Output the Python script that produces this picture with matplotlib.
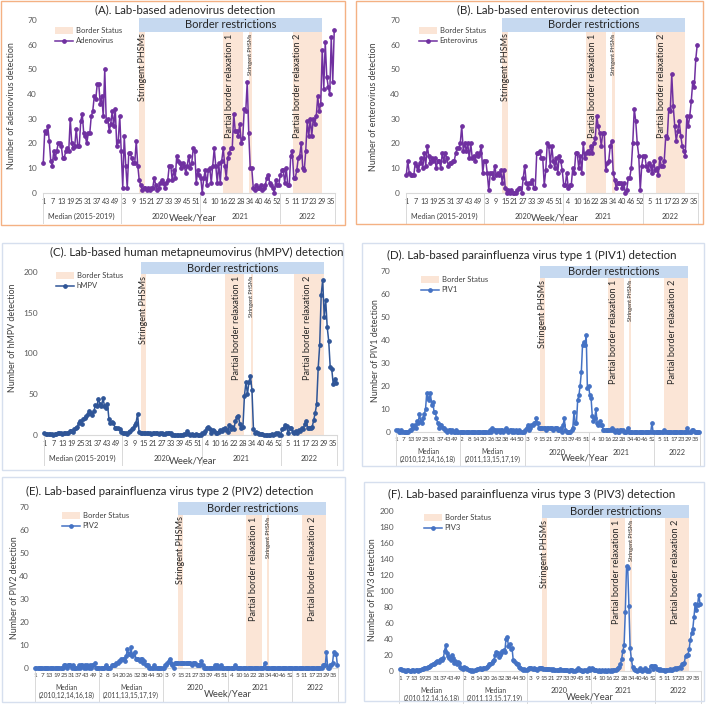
import matplotlib
matplotlib.use("Agg")
import matplotlib.pyplot as plt
import matplotlib.transforms as mtransforms
from matplotlib.patches import Rectangle, Patch
from matplotlib.lines import Line2D

plt.rcParams['font.family'] = ['Lato', 'DejaVu Sans']

W, H = 709, 704
PEACH = "#FBE5D6"
BAR_BLUE = "#C6D9F0"
TXT = "#404040"
GRID = "#D9D9D9"

# ---------------- data ----------------
# panels A-C: median year + 2020, 2021, 2022 (weeks per group)
weeks_abc = [52, 53, 53, 37]
keys_abc = ["median", "2020", "2021", "2022"]
groups_abc = [["Median (2015-2019)"], ["2020"], ["2021"], ["2022"]]
# panels D-F: two median years + 2020, 2021, 2022
weeks_def = [53, 53, 53, 53, 38]
keys_def = ["median1", "median2", "2020", "2021", "2022"]
groups_def = [["Median", "(2010,12,14,16,18)"], ["Median", "(2011,13,15,17,19)"],
              ["2020"], ["2021"], ["2022"]]

# policy periods (year, first week, last week)
periods = [("2020", 13.0, 16.8), ("2021", 16.0, 29.0), ("2021", 33.1, 34.9), ("2022", 9.2, 29.0)]
period_labels = ["Stringent PHSMs", "Partial border relaxation 1", "Stringent PHSMs",
                 "Partial border relaxation 2"]

adeno_median = [12, 25, 24, 27, 21, 13, 11, 17, 14, 17, 20, 20, 19, 14, 14, 17, 18, 17, 30, 20, 18, 19, 26, 19, 19, 29,
                32, 24, 23, 20, 24, 24, 31, 33, 39, 38, 44, 44, 36, 39, 31, 50, 29, 30, 25, 28, 33, 27, 34, 19, 21, 31]
adeno_2020 = [17, 2, 23, 11, 2, 16, 16, 14, 12, 12, 21, 11, 5, 3, 1, 2, 2, 1, 2, 1, 2, 2, 6, 3, 1, 2, 4, 5, 4, 2, 4, 5,
              11, 11, 5, 9, 6, 15, 13, 12, 10, 12, 11, 8, 11, 15, 10, 12, 18, 17, 4, 9, 7]
adeno_2021 = [6, 0, 6, 9, 3, 9, 10, 4, 11, 18, 11, 4, 12, 4, 13, 18, 11, 6, 14, 16, 18, 18, 32, 25, 25, 23, 28, 20, 22,
              34, 33, 45, 24, 10, 10, 2, 1, 3, 2, 2, 3, 1, 2, 3, 6, 7, 4, 3, 2, 0, 5, 3, 3]
adeno_2022 = [7, 9, 9, 4, 10, 3, 3, 15, 17, 6, 6, 9, 14, 15, 20, 10, 9, 17, 29, 23, 30, 23, 30, 28, 31, 39, 33, 36, 58,
              42, 61, 47, 43, 40, 63, 45, 66]

entero_median = [7, 13, 8, 7, 7, 7, 12, 11, 9, 12, 14, 10, 16, 11, 19, 15, 12, 14, 13, 14, 10, 13, 13, 10, 16, 13, 16,
                 14, 11, 12, 12, 13, 13, 16, 18, 18, 20, 27, 17, 20, 17, 20, 14, 20, 14, 15, 13, 16, 15, 16, 19, 8]
entero_2020 = [13, 13, 8, 1, 8, 8, 6, 11, 7, 8, 7, 9, 4, 9, 2, 0, 1, 0, 1, 0, 0, 0, 1, 2, 2, 0, 6, 11, 4, 2, 4, 4, 5, 2,
               2, 16, 16, 17, 14, 14, 3, 9, 20, 19, 11, 19, 13, 10, 14, 8, 15, 13, 9]
entero_2021 = [3, 3, 8, 2, 3, 3, 10, 8, 16, 16, 10, 15, 8, 20, 14, 16, 17, 16, 19, 16, 20, 22, 31, 27, 24, 19, 24, 24,
               9, 12, 13, 19, 21, 8, 5, 2, 4, 4, 4, 2, 4, 0, 1, 6, 6, 10, 20, 34, 29, 20, 15, 1, 11]
entero_2022 = [15, 15, 11, 9, 12, 11, 8, 13, 9, 10, 7, 14, 11, 11, 13, 23, 22, 34, 33, 48, 35, 27, 21, 25, 29, 23, 19,
               17, 15, 31, 27, 31, 37, 45, 43, 54, 60]

hmpv_median = [2, 1, 1, 1, 1, 1, 0, 1, 1, 2, 3, 3, 1, 2, 2, 3, 3, 5, 5, 4, 7, 8, 10, 15, 17, 14, 19, 21, 23, 26, 30, 27,
               25, 29, 37, 36, 44, 38, 35, 45, 36, 33, 38, 19, 15, 16, 15, 9, 9, 8, 7, 4]
hmpv_2020 = [2, 2, 2, 1, 4, 5, 7, 8, 12, 15, 26, 4, 3, 3, 3, 2, 2, 2, 2, 1, 2, 2, 3, 2, 1, 2, 2, 1, 1, 2, 2, 2, 2, 0, 0,
             0, 0, 0, 0, 0, 0, 1, 1, 5, 1, 0, 1, 0, 0, 1, 0, 0, 0]
hmpv_2021 = [2, 3, 5, 8, 10, 7, 3, 6, 5, 3, 3, 4, 6, 5, 7, 8, 6, 4, 12, 7, 10, 7, 17, 22, 23, 13, 8, 10, 48, 65, 50, 65,
             72, 55, 7, 3, 4, 2, 1, 1, 1, 0, 0, 0, 0, 0, 1, 0, 1, 3, 2, 0, 0]
hmpv_2022 = [7, 8, 12, 11, 2, 8, 9, 4, 3, 5, 3, 6, 5, 9, 7, 13, 17, 9, 8, 8, 10, 18, 27, 38, 82, 110, 172, 190, 145,
             165, 132, 115, 83, 81, 62, 68, 64]

piv1_median1 = [1, 1, 0, 0, 1, 0, 0, 0, 0, 0, 0, 1, 1, 3, 2, 3, 2, 5, 4, 8, 5, 4, 6, 8, 10, 17, 15, 14, 17, 12, 13, 9,
                9, 6, 4, 2, 3, 3, 2, 2, 1, 1, 0, 1, 1, 0, 1, 0, 0, 1, 0, 0, 0]
piv1_median2 = [0, 0, 0, 0, 0, 0, 0, 0, 0, 0, 0, 0, 0, 0, 0, 0, 0, 0, 0, 0, 0, 0, 0, 0, 1, 0, 2, 1, 1, 0, 1, 1, 0, 1,
                1, 0, 1, 2, 1, 0, 1, 1, 0, 1, 0, 1, 0, 0, 1, 0, 0, 0, 0]
piv1_2020 = [1, 2, 3, 1, 2, 3, 3, 4, 4, 6, 4, 2, 2, 2, 2, 2, 2, 1, 2, 2, 2, 2, 2, 1, 2, 2, 2, 1, 1, 2, 0, 3, 6, 1, 0, 0,
             0, 0, 1, 2, 9, 4, 4, 14, 16, 20, 26, 38, 39, 38, 42, 19, 20]
piv1_2021 = [16, 15, 7, 5, 6, 10, 4, 3, 5, 3, 3, 1, 1, 1, 1, 1, 1, 1, 2, 1, 1, 0, 1, 0, 0, 1, 1, 1, 0, 0, 0, 2, 0, 0,
             0, 0, 0, 0, 0, 0, 0, 0, 0, 0, 0, 0, 0, 0, 0, 0, 0, 4, 0]
piv1_2022 = [0, 0, 0, 0, 0, 0, 0, 0, 1, 0, 0, 0, 0, 0, 0, 0, 0, 0, 0, 0, 0, 0, 0, 0, 0, 0, 0, 2, 0, 0, 0, 1, 1, 0, 0,
             0, 0, 0]

piv2_median1 = [0, 0, 0, 0, 0, 0, 0, 0, 0, 0, 0, 0, 0, 0, 0, 0, 0, 0, 0, 0, 0, 0, 0, 0, 1, 1, 0, 1, 1, 1, 0, 1, 0, 0,
                0, 0, 1, 0, 1, 1, 0, 1, 0, 1, 0, 1, 0, 1, 1, 2, 0, 0, 0]
piv2_median2 = [0, 0, 0, 0, 0, 1, 0, 0, 0, 0, 1, 1, 1, 1, 2, 2, 3, 3, 4, 4, 4, 3, 5, 8, 6, 6, 9, 5, 6, 7, 4, 4, 4, 3,
                4, 4, 2, 3, 1, 1, 1, 0, 0, 0, 0, 1, 0, 0, 0, 0, 0, 0, 0]
piv2_2020 = [0, 1, 1, 2, 3, 4, 2, 1, 0, 2, 2, 2, 2, 2, 2, 2, 2, 2, 2, 2, 2, 2, 2, 1, 2, 2, 2, 1, 1, 1, 1, 3, 1, 0, 0, 0,
             0, 0, 0, 0, 0, 0, 1, 0, 1, 0, 0, 1, 0, 0, 0, 0, 0]
piv2_2021 = [0, 0, 0, 0, 0, 0, 1, 0, 0, 0, 0, 0, 0, 0, 0, 0, 0, 0, 0, 0, 0, 0, 0, 0, 0, 0, 0, 0, 0, 0, 2, 0, 0, 0, 0,
             0, 0, 0, 0, 0, 0, 0, 0, 0, 0, 0, 0, 0, 0, 0, 0, 0, 0]
piv2_2022 = [0, 0, 0, 0, 0, 0, 0, 0, 0, 0, 0, 0, 0, 0, 0, 0, 0, 0, 0, 0, 0, 0, 0, 0, 0, 1, 1, 1, 7, 0, 0, 1, 1, 2, 7,
             6, 6, 1]

piv3_median1 = [2, 2, 1, 1, 0, 0, 1, 1, 0, 0, 1, 1, 0, 1, 1, 0, 1, 1, 2, 2, 3, 3, 4, 5, 5, 6, 7, 8, 9, 10, 11, 12, 11,
                13, 15, 14, 16, 25, 32, 22, 19, 16, 14, 20, 16, 10, 12, 9, 11, 10, 5, 3, 2]
piv3_median2 = [5, 4, 3, 2, 1, 1, 0, 1, 0, 1, 1, 2, 2, 3, 2, 2, 3, 3, 4, 5, 6, 8, 9, 10, 12, 14, 20, 24, 22, 17, 20,
                22, 25, 26, 24, 40, 42, 31, 33, 27, 28, 13, 12, 10, 8, 8, 5, 4, 2, 1, 2, 1, 1]
piv3_2020 = [2, 4, 3, 3, 2, 3, 2, 2, 1, 3, 3, 4, 3, 2, 2, 2, 2, 2, 2, 2, 1, 2, 1, 1, 1, 1, 1, 2, 1, 1, 1, 1, 1, 1, 0, 1,
             1, 1, 0, 0, 1, 1, 3, 1, 1, 0, 0, 1, 1, 0, 1, 3, 1]
piv3_2021 = [4, 2, 1, 1, 1, 0, 1, 0, 0, 1, 0, 1, 0, 0, 1, 0, 1, 0, 1, 1, 1, 2, 3, 5, 8, 15, 25, 32, 73, 131, 129, 81,
             28, 15, 5, 2, 1, 1, 0, 1, 3, 1, 0, 1, 3, 1, 0, 1, 0, 6, 6, 2, 6]
piv3_2022 = [6, 2, 2, 1, 2, 1, 1, 1, 0, 1, 1, 1, 2, 1, 1, 2, 3, 2, 4, 3, 5, 4, 9, 8, 10, 19, 20, 20, 27, 39, 47, 52, 67,
             84, 76, 82, 95, 84]

# ---------------- layout (pixels) ----------------
panels = [
    dict(series=[adeno_median, adeno_2020, adeno_2021, adeno_2022], weeks=weeks_abc, keys=keys_abc,
         groups=groups_abc, color="#7030A0", name="Adenovirus",
         ylabel="Number of adenovirus detection", title="(A). Lab-based adenovirus detection",
         ymax=70, ystep=10, bar=(65.3, 70.7), rect=(42.5, 20, 335, 192.7),
         title_xy=(185, 9.5), ylabel_xy=(12, 106), legend_xy=(55, 27),
         text_weeks=(20, 12.5), week_x=193, frame=(1, 1, 345, 225), frame_color="#F4B183"),
    dict(series=[entero_median, entero_2020, entero_2021, entero_2022], weeks=weeks_abc, keys=keys_abc,
         groups=groups_abc, color="#7030A0", name="Enterovirus",
         ylabel="Number of enterovirus detection", title="(B). Lab-based enterovirus detection",
         ymax=70, ystep=10, bar=(65.3, 70.7), rect=(405.5, 20, 698, 192.7),
         title_xy=(548, 9.5), ylabel_xy=(374, 107), legend_xy=(419, 27),
         text_weeks=(20, 13), week_x=555, frame=(356, 1, 703, 224), frame_color="#F4B183"),
    dict(series=[hmpv_median, hmpv_2020, hmpv_2021, hmpv_2022], weeks=weeks_abc, keys=keys_abc,
         groups=groups_abc, color="#2F5597", name="hMPV",
         ylabel="Number of hMPV detection", title="(C). Lab-based human metapneumovirus (hMPV) detection",
         ymax=200, ystep=50, bar=(197, 212), rect=(43.5, 271.7, 337, 435),
         title_xy=(197, 252), ylabel_xy=(13, 338), legend_xy=(56, 272),
         text_weeks=(24, 17.7), week_x=193, frame=(2, 243, 343, 470), frame_color="#D6DFEE"),
    dict(series=[piv1_median1, piv1_median2, piv1_2020, piv1_2021, piv1_2022], weeks=weeks_def, keys=keys_def,
         groups=groups_def, color="#4472C4", name="PIV1",
         ylabel="Number of PIV1 detection", title="(D). Lab-based parainfluenza virus type 1 (PIV1) detection",
         ymax=70, ystep=10, bar=(66.7, 72.2), rect=(395.7, 270.7, 700, 432.3),
         title_xy=(532, 255.5), ylabel_xy=(376, 351), legend_xy=(421, 276),
         text_weeks=(20.7, 16), week_x=585, frame=(362, 243, 704, 466), frame_color="#D6DFEE"),
    dict(series=[piv2_median1, piv2_median2, piv2_2020, piv2_2021, piv2_2022], weeks=weeks_def, keys=keys_def,
         groups=groups_def, color="#4472C4", name="PIV2",
         ylabel="Number of PIV2 detection", title="(E). Lab-based parainfluenza virus type 2 (PIV2) detection",
         ymax=70, ystep=10, bar=(66.7, 72.2), rect=(34.5, 507.3, 338, 667.7),
         title_xy=(170, 491.5), ylabel_xy=(15, 588), legend_xy=(62, 512),
         text_weeks=(22, 17.5), week_x=228, frame=(2, 477, 345, 702), frame_color="#D6DFEE"),
    dict(series=[piv3_median1, piv3_median2, piv3_2020, piv3_2021, piv3_2022], weeks=weeks_def, keys=keys_def,
         groups=groups_def, color="#4472C4", name="PIV3",
         ylabel="Number of PIV3 detection", title="(F). Lab-based parainfluenza virus type 3 (PIV3) detection",
         ymax=200, ystep=20, bar=(191, 207), rect=(399.4, 510.7, 700.6, 670.7),
         title_xy=(532, 494), ylabel_xy=(373, 590), legend_xy=(424, 514),
         text_weeks=(21.4, 18), week_x=590, frame=(364, 482, 704, 701), frame_color="#D6DFEE"),
]

fig = plt.figure(figsize=(W / 100, H / 100), dpi=100)


def below(ax, dy_px):
    # x in data, y = axis bottom shifted down by dy pixels
    base = mtransforms.blended_transform_factory(ax.transData, ax.transAxes)
    return base + mtransforms.ScaledTranslation(0, -dy_px / 100, fig.dpi_scale_trans)


for p in panels:
    l, t, r, b = p["rect"]
    ax = fig.add_axes([l / W, 1 - b / H, (r - l) / W, (b - t) / H])
    values = [v for s in p["series"] for v in s]
    n = len(values)
    starts = [sum(p["weeks"][:k]) for k in range(len(p["weeks"]))]
    offs = dict(zip(p["keys"], starts))
    two_line = len(p["weeks"]) == 5

    ymax = p["ymax"]
    bar_lo, bar_hi = p["bar"]

    # shaded policy periods
    xs = []
    for (yr, w0, w1) in periods:
        x0 = offs[yr] + w0 - 1
        x1 = offs[yr] + w1 - 1
        xs.append((x0, x1))
        ax.axvspan(x0, x1, ymin=0, ymax=bar_lo / ymax, color=PEACH, lw=0, zorder=0)
    # border restrictions bar
    ax.add_patch(Rectangle((xs[0][0], bar_lo), xs[3][1] - xs[0][0], bar_hi - bar_lo,
                           facecolor=BAR_BLUE, edgecolor="none", clip_on=False, zorder=1))
    ax.text((xs[0][0] + xs[3][1]) / 2, (bar_lo + bar_hi) / 2, "Border restrictions",
            ha="center", va="center", fontsize=8, color="#262626", zorder=2)

    # rotated period labels
    gap = ymax * 0.01
    label_x = [(xs[0][0] + xs[0][1]) / 2,
               offs["2021"] + p["text_weeks"][0] - 1,
               (xs[2][0] + xs[2][1]) / 2,
               offs["2022"] + p["text_weeks"][1] - 1]
    sizes = [6.5, 6.6, 4.0, 6.6]
    for lab, xx, fs in zip(period_labels, label_x, sizes):
        ax.text(xx, bar_lo - gap, lab, rotation=90, ha="center", va="top",
                fontsize=fs, color="#262626", zorder=2)

    # series
    ax.plot(range(n), values, color=p["color"], lw=1.1, marker="o", ms=2.4,
            zorder=3, clip_on=False)

    ax.set_xlim(-0.5, n - 0.5)
    ax.set_ylim(0, ymax)
    ax.set_yticks(range(0, ymax + 1, p["ystep"]))
    ax.tick_params(axis="y", length=0, labelsize=6, labelcolor="#595959", pad=4)
    for s in ["left", "right", "top"]:
        ax.spines[s].set_visible(False)
    ax.spines["bottom"].set_color(GRID)
    ax.spines["bottom"].set_linewidth(0.8)
    ax.patch.set_alpha(0)

    # week ticks every 6 weeks
    tick_pos, tick_lab = [], []
    for i in range(0, n, 6):
        g = max(k for k in range(len(starts)) if starts[k] <= i)
        tick_pos.append(i)
        tick_lab.append(str(i - starts[g] + 1))
    ax.set_xticks(tick_pos)
    ax.set_xticklabels(tick_lab)
    ax.tick_params(axis="x", length=0, labelsize=4.6 if two_line else 5.2,
                   labelcolor="#404040", pad=3.5)

    # group labels and separators
    hpx = b - t
    sep_len = 33 if two_line else 30
    bounds = starts + [n]
    for k, g in enumerate(p["groups"]):
        xc = (bounds[k] + bounds[k + 1] - 1) / 2
        if len(g) == 2:
            ax.text(xc, 0, g[0], transform=below(ax, 19.5), ha="center", va="center",
                    fontsize=4.8, color=TXT)
            ax.text(xc, 0, g[1], transform=below(ax, 27.5), ha="center", va="center",
                    fontsize=4.8, color=TXT)
        else:
            ax.text(xc, 0, g[0], transform=below(ax, 20 if two_line else 23.5), ha="center",
                    va="center", fontsize=5.2, color=TXT)
    blend = mtransforms.blended_transform_factory(ax.transData, ax.transAxes)
    for bx in bounds:
        ax.plot([bx - 0.5, bx - 0.5], [0, -sep_len / hpx], transform=blend, color=GRID,
                lw=0.7, clip_on=False)

    # Week/Year
    fig.text(p["week_x"] / W, 1 - (b + (26 if two_line else 25.5)) / H, "Week/Year",
             ha="center", va="center", fontsize=6.8, color=TXT)
    # title and y label
    fig.text(p["title_xy"][0] / W, 1 - p["title_xy"][1] / H, p["title"], ha="center",
             va="center", fontsize=8.3, color="#262626")
    fig.text(p["ylabel_xy"][0] / W, 1 - p["ylabel_xy"][1] / H, p["ylabel"], rotation=90,
             ha="center", va="center", fontsize=6.4, color=TXT)

    # legend
    handles = [Patch(facecolor=PEACH, edgecolor="none", label="Border Status"),
               Line2D([], [], color=p["color"], lw=1.1, marker="o", ms=2.4, label=p["name"])]
    ax.legend(handles=handles, loc="upper left", frameon=False, fontsize=5.5,
              bbox_to_anchor=(p["legend_xy"][0] / W, 1 - p["legend_xy"][1] / H),
              bbox_transform=fig.transFigure, borderaxespad=0, borderpad=0,
              handlelength=2.4, handleheight=0.9, labelspacing=0.45, handletextpad=0.3,
              labelcolor=TXT)

    # panel frame
    fx0, fy0, fx1, fy1 = p["frame"]
    fig.add_artist(Rectangle((fx0 / W, 1 - fy1 / H), (fx1 - fx0) / W, (fy1 - fy0) / H,
                             transform=fig.transFigure, fill=False,
                             edgecolor=p["frame_color"], lw=1.0))

fig.savefig("out.png", dpi=100)
